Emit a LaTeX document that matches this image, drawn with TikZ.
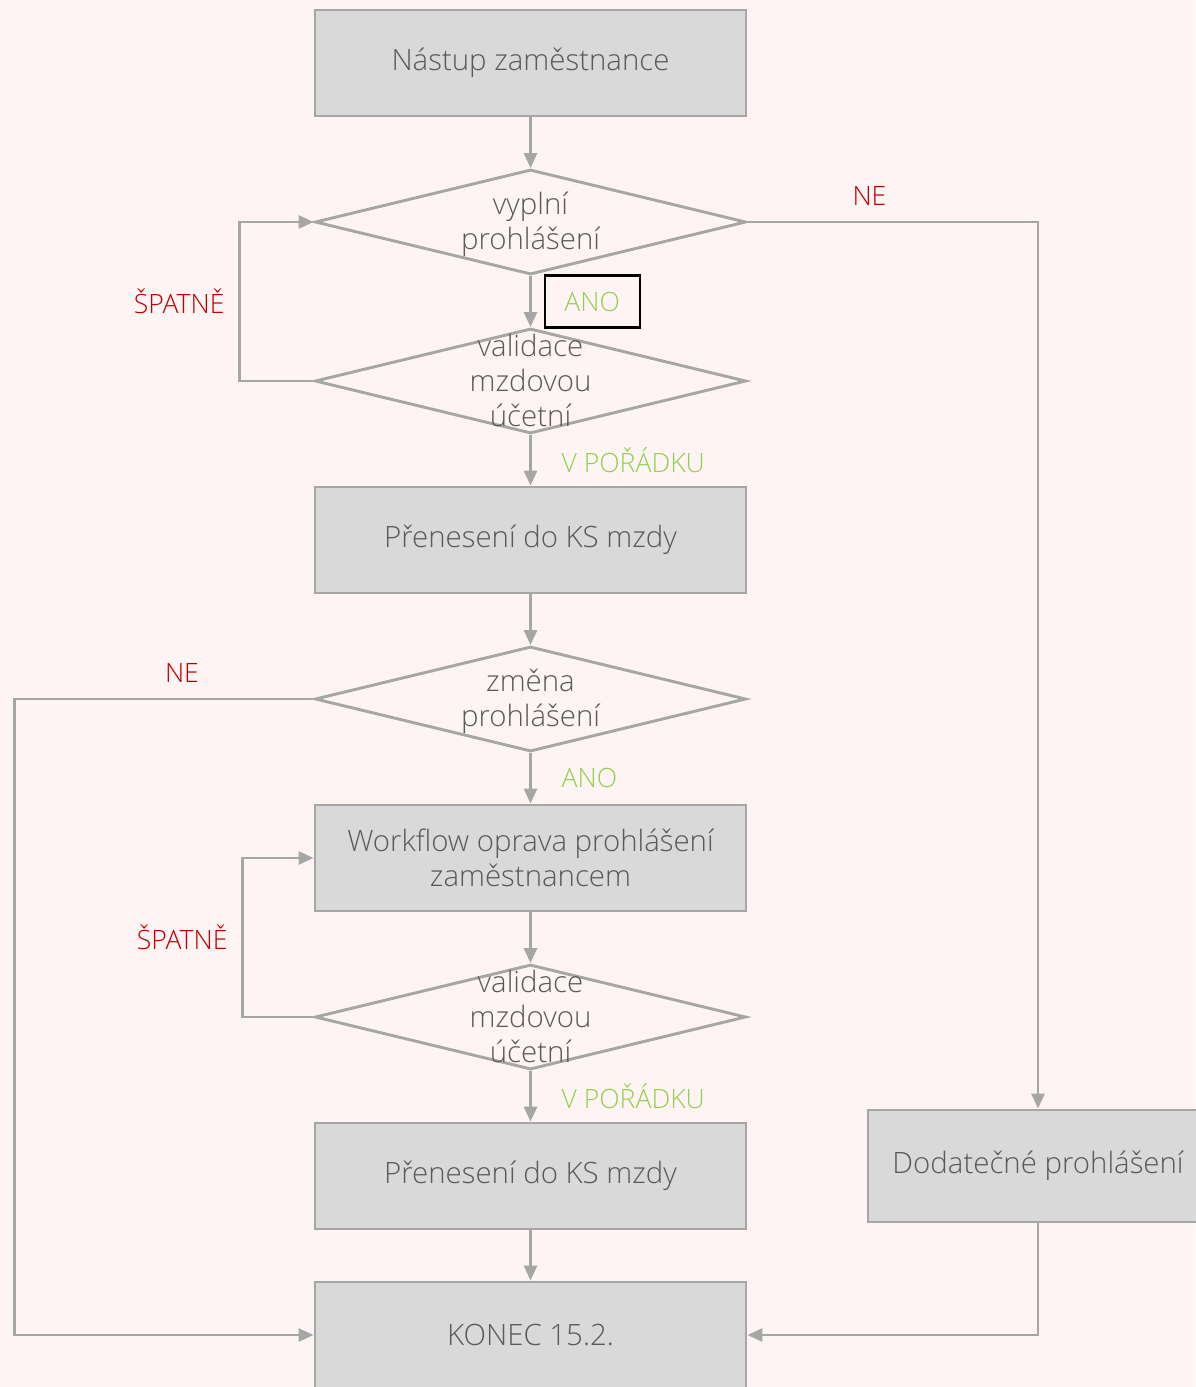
\documentclass[tikz,border=0pt]{standalone}
\usepackage{fontspec}
\setmainfont{Open Sans}[UprightFont=* Light]
\usetikzlibrary{arrows.meta, shapes.geometric, positioning}
\definecolor{bgpink}{HTML}{FFF4F4}
\definecolor{boxgray}{HTML}{D9D9D9}
\definecolor{linegray}{HTML}{A6A6A6}
\definecolor{textgray}{HTML}{595959}
\definecolor{badred}{HTML}{C00000}
\definecolor{okgreen}{HTML}{92D050}

\begin{document}
\begin{tikzpicture}[x=0.5pt,y=-0.5pt,node distance=79.5pt,line width=1.45pt,
  >={Triangle[length=7.5pt,width=6.5pt]},
  flow/.style={draw=linegray,->},
  task node/.style={rectangle,fill=boxgray,draw=linegray,minimum width=215.5pt,
    minimum height=53pt,inner sep=0pt,align=center,text=textgray,
    font=\fontsize{14.7}{17.8}\selectfont},
  choice node/.style={diamond,draw=linegray,minimum width=215.5pt,
    minimum height=52.5pt,inner sep=0pt},
  choice text/.style={align=center,text=textgray,yshift=-1.25pt,
    font=\fontsize{14.7}{17.5}\selectfont},
  no label/.style={above=4pt,text=badred,font=\fontsize{13.3}{15}\selectfont},
  bad label/.style={left=3.5pt,text=badred,font=\fontsize{13.3}{15}\selectfont},
  ok label/.style={right=11.5pt,text=okgreen,font=\fontsize{13.3}{15}\selectfont},
  ano box/.style={right=6.5pt,draw=black,line width=1.1pt,text=okgreen,
    minimum width=47.5pt,minimum height=26pt,font=\fontsize{13.3}{15}\selectfont}]
  \fill[bgpink] (0,0) rectangle (1195,1387);
  \useasboundingbox (0,0) rectangle (1195,1387);

  % main column
  \node[task node] (nastup) at (530.5,63) {Nástup zaměstnance};
  \node[choice node, below of=nastup,
    label={[choice text]center:{vyplní\\prohlášení}}] (vyplni) {};
  \node[choice node, below of=vyplni,
    label={[choice text, yshift=1.75pt]center:{validace\\mzdovou\\účetní}}] (validace1) {};
  \node[task node, below of=validace1] (prenos1) {Přenesení do KS mzdy};
  \node[choice node, below of=prenos1,
    label={[choice text]center:{změna\\prohlášení}}] (zmena) {};
  \node[task node, below of=zmena] (oprava) {Workflow oprava prohlášení\\zaměstnancem};
  \node[choice node, below of=oprava,
    label={[choice text, yshift=1.75pt]center:{validace\\mzdovou\\účetní}}] (validace2) {};
  \node[task node, below of=validace2] (prenos2) {Přenesení do KS mzdy};
  \node[task node, below of=prenos2] (konec) {KONEC 15.2.};
  % side branch
  \node[task node, minimum width=170pt, minimum height=56pt] (dodatecne)
    at (1038,1166) {Dodatečné prohlášení};

  % straight down
  \draw[flow] (nastup) -- (vyplni);
  \draw[flow] (vyplni) -- node[ano box] {ANO} (validace1);
  \draw[flow] (validace1) -- node[ok label] {V POŘÁDKU} (prenos1);
  \draw[flow] (prenos1) -- (zmena);
  \draw[flow] (zmena) -- node[ok label] {ANO} (oprava);
  \draw[flow] (oprava) -- (validace2);
  \draw[flow] (validace2) -- node[ok label] {V POŘÁDKU} (prenos2);
  \draw[flow] (prenos2) -- (konec);

  % loops and side lines
  \draw[flow] (vyplni.east) -| node[pos=0.21, no label] {NE} (dodatecne.north);
  \draw[flow] (validace1.west) -- ++(-74,0) |- node[pos=0.25, bad label] {ŠPATNĚ} (vyplni.west);
  \draw[flow] (zmena.west) -- node[pos=0.44, no label] {NE} ++(-299,0) |- (konec.west);
  \draw[flow] (validace2.west) -- ++(-71,0) |- node[pos=0.25, bad label] {ŠPATNĚ} (oprava.west);
  \draw[flow] (dodatecne.south) |- (konec.east);
\end{tikzpicture}
\end{document}
